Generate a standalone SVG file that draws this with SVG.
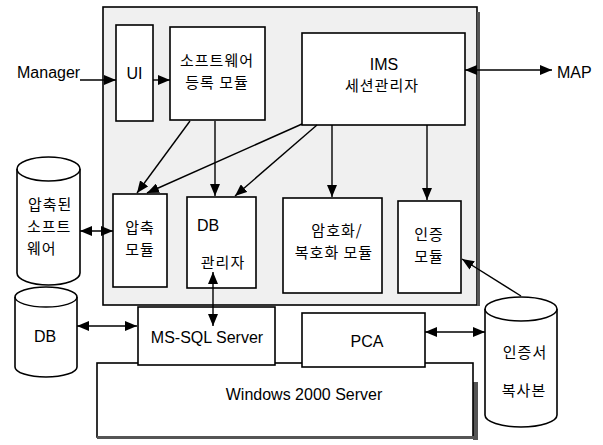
<svg xmlns="http://www.w3.org/2000/svg" width="603" height="445" viewBox="0 0 603 445">
<style>
.box{fill:#fff;stroke:#000;stroke-width:1.6}
.cyl{fill:#fff;stroke:#000;stroke-width:1.6}
.lat{font-family:"Liberation Sans",Arial,sans-serif;font-size:16px;fill:#000}
.kr{font-family:"Noto Sans CJK KR","Noto Sans",sans-serif;font-size:15px;letter-spacing:1px;fill:#000}
.c{text-anchor:middle}
.ln{fill:none;stroke:#000;stroke-width:1.4}
.shd{fill:#555}
</style>
<defs>
<marker id="ah" viewBox="0 0 12 10" refX="12" refY="5" markerWidth="12" markerHeight="10" markerUnits="userSpaceOnUse" orient="auto-start-reverse">
<path d="M0,0 L12,5 L0,10 Z" fill="#000"/>
</marker>
</defs>
<rect width="603" height="445" fill="#fff"/>

<g id="outer">
<rect x="103" y="7" width="374" height="298" fill="#f0f0f0" stroke="#000" stroke-width="1.6"/>
<rect x="477" y="12" width="3" height="294" class="shd"/>
</g>

<g id="ui">
<rect x="116" y="25" width="37" height="96" class="box"/>
<text x="134.5" y="79" class="lat c">UI</text>
</g>

<g id="sw-reg">
<rect x="170" y="27" width="95" height="93" class="box"/>
<text x="217" y="66" class="kr c">소프트웨어</text>
<text x="217" y="88" class="kr c">등록 모듈</text>
</g>

<g id="ims">
<rect x="302" y="33" width="163" height="92" class="box"/>
<text x="384" y="70" class="lat c" font-size="15">IMS</text>
<text x="382" y="91" class="kr c">세션관리자</text>
</g>

<g id="compress">
<rect x="113" y="194" width="54" height="93" class="box"/>
<text x="140" y="233" class="kr c">압축</text>
<text x="140" y="255" class="kr c">모듈</text>
</g>

<g id="dbmgr">
<rect x="187" y="197" width="69" height="91" class="box"/>
<text x="197" y="231" class="lat">DB</text>
<text x="223" y="268" class="kr c">관리자</text>
</g>

<g id="crypto">
<rect x="283" y="198" width="99" height="95" class="box"/>
<text x="337" y="236" class="kr c">암호화/</text>
<text x="334" y="258" class="kr c">복호화 모듈</text>
</g>

<g id="auth">
<rect x="398" y="201" width="63" height="92" class="box"/>
<text x="429" y="239.5" class="kr c">인증</text>
<text x="429" y="261.5" class="kr c">모듈</text>
</g>

<g id="windows">
<rect x="473" y="382" width="5" height="58" class="shd"/>
<rect x="97" y="363" width="376" height="74" class="box"/>
<rect x="97" y="436" width="378" height="3" class="shd"/>
<text x="304" y="400" class="lat c" font-size="16.5">Windows 2000 Server</text>
</g>

<g id="mssql">
<rect x="138" y="307" width="137" height="58" class="box"/>
<text x="207" y="343" class="lat c" font-size="16.5">MS-SQL Server</text>
</g>

<g id="pca">
<rect x="302" y="313" width="123" height="54" class="box"/>
<text x="367" y="347" class="lat c">PCA</text>
</g>

<g id="compressed-sw">
<path d="M17,169 A31.5,12 0 0 1 80,169 L80,273 A31.5,12 0 0 1 17,273 Z" class="cyl"/>
<path d="M17,169 A31.5,12 0 0 0 80,169" class="ln" stroke-width="1.6"/>
<text x="28" y="210" class="kr">압축된</text>
<text x="27" y="232" class="kr">소프트</text>
<text x="27" y="254" class="kr">웨어</text>
</g>

<g id="db">
<path d="M15,297 A31,10 0 0 1 77,297 L77,367 A31,10 0 0 1 15,367 Z" class="cyl"/>
<path d="M15,297 A31,10 0 0 0 77,297" class="ln" stroke-width="1.6"/>
<text x="45" y="342" class="lat c">DB</text>
</g>

<g id="cert">
<path d="M485,309 A36,12 0 0 1 557,309 L557,415 A36,12 0 0 1 485,415 Z" class="cyl"/>
<path d="M485,309 A36,12 0 0 0 557,309" class="ln" stroke-width="1.6"/>
<text x="525" y="358" class="kr c">인증서</text>
<text x="524" y="396" class="kr c">복사본</text>
</g>

<g id="labels">
<text x="17" y="78" class="lat">Manager</text>
<text x="557" y="78" class="lat">MAP</text>
</g>

<g id="connectors">
<path d="M80,80 L116,80" class="ln" marker-end="url(#ah)"/>
<path d="M153,80 L170,80" class="ln" marker-end="url(#ah)"/>
<path d="M465,70 L552,70" class="ln" marker-start="url(#ah)" marker-end="url(#ah)"/>
<path d="M190,121 L137,193" class="ln" marker-end="url(#ah)"/>
<path d="M302,124 L147,193" class="ln" marker-end="url(#ah)"/>
<path d="M215,121 L215,196" class="ln" marker-end="url(#ah)"/>
<path d="M317,125 L235,196" class="ln" marker-end="url(#ah)"/>
<path d="M332,125 L332,197" class="ln" marker-end="url(#ah)"/>
<path d="M427,125 L427,200" class="ln" marker-end="url(#ah)"/>
<path d="M80,231 L113,231" class="ln" marker-start="url(#ah)" marker-end="url(#ah)"/>
<path d="M213,272 L213,326" class="ln" marker-start="url(#ah)" marker-end="url(#ah)"/>
<path d="M77,326 L137,326" class="ln" marker-start="url(#ah)" marker-end="url(#ah)"/>
<path d="M425,332 L485,332" class="ln" marker-start="url(#ah)" marker-end="url(#ah)"/>
<path d="M521,296 L462,259" class="ln" marker-end="url(#ah)"/>
</g>
</svg>
